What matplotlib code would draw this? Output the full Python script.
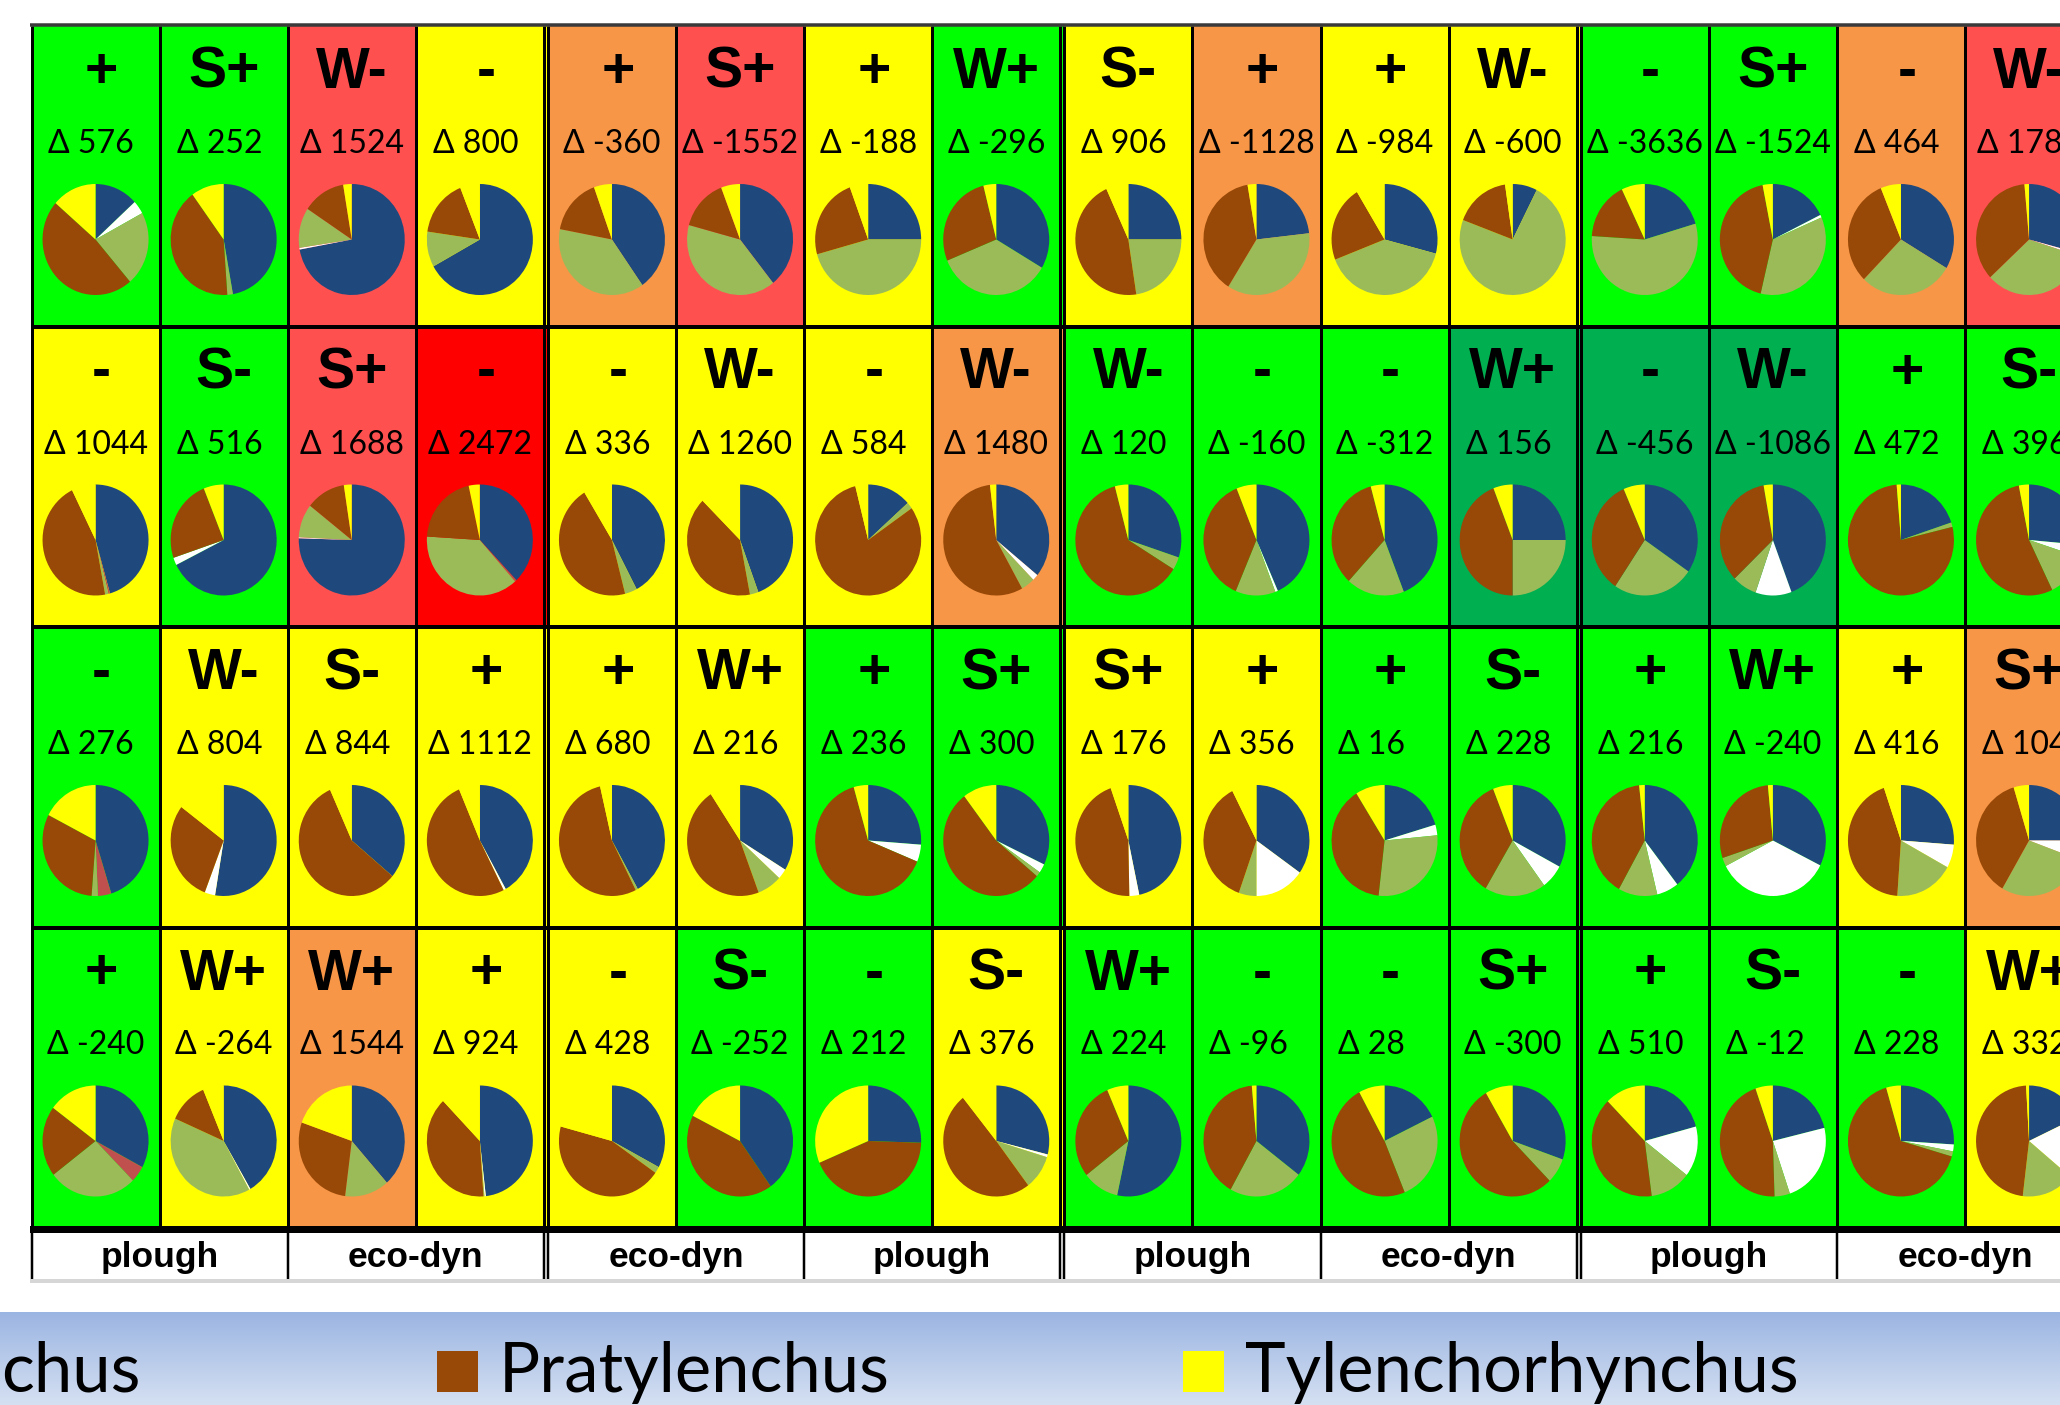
import matplotlib
matplotlib.use("Agg")
import matplotlib.pyplot as plt
from matplotlib.patches import Rectangle
from matplotlib import font_manager
import numpy as np

# ---------------------------------------------------------------- data ----
# effect class shown in each cell (4 sampling rows x 16 plots)
effect = [
    ["+", "S+", "W-", "-", "+", "S+", "+", "W+", "S-", "+", "+", "W-", "-", "S+", "-", "W-"],
    ["-", "S-", "S+", "-", "-", "W-", "-", "W-", "W-", "-", "-", "W+", "-", "W-", "+", "S-"],
    ["-", "W-", "S-", "+", "+", "W+", "+", "S+", "S+", "+", "+", "S-", "+", "W+", "+", "S+"],
    ["+", "W+", "W+", "+", "-", "S-", "-", "S-", "W+", "-", "-", "S+", "+", "S-", "-", "W+"],
]

# change in nematode numbers
delta = [
    [576, 252, 1524, 800, -360, -1552, -188, -296, 906, -1128, -984, -600, -3636, -1524, 464, 1780],
    [1044, 516, 1688, 2472, 336, 1260, 584, 1480, 120, -160, -312, 156, -456, -1086, 472, 396],
    [276, 804, 844, 1112, 680, 216, 236, 300, 176, 356, 16, 228, 216, -240, 416, 104],
    [-240, -264, 1544, 924, 428, -252, 212, 376, 224, -96, 28, -300, 510, -12, 228, 332],
]

# cell shading class: G green, D dark green, Y yellow, O orange, S light red, R red
cell_class = [
    "GGSY" "OSYG" "YOYY" "GGOS",
    "YGSR" "YYYO" "GGGD" "DDGG",
    "GYYY" "YYGG" "YYGG" "GGYO",
    "GYOY" "YGGY" "GGGG" "GGGY",
]

# community composition per cell (%), one array per taxon group
blue_share = [
    [13.2, 47.2, 72.1, 66.9, 40.3, 39.3, 25.0, 33.5, 25.0, 23.2, 29.1, 7.5, 20.4, 17.7, 33.6, 29.1],
    [45.6, 67.6, 75.5, 37.9, 42.3, 44.4, 13.4, 35.9, 30.1, 43.4, 44.1, 25.0, 34.6, 44.3, 19.9, 26.4],
    [45.2, 52.6, 36.1, 41.9, 41.9, 33.8, 26.2, 32.1, 46.7, 34.8, 20.4, 32.8, 39.5, 32.4, 26.2, 25.0],
    [32.8, 41.6, 38.5, 48.2, 32.8, 40.2, 25.5, 28.9, 53.4, 35.4, 17.8, 30.4, 20.8, 21.2, 26.0, 18.0],
]
white_share = [
    [3.9, 0, 0.5, 0, 0, 0, 0, 0, 0, 0, 0, 0, 0, 0.8, 0, 0.8],
    [0, 2.2, 0.3, 0, 0, 0, 0, 1.8, 0, 0.8, 0, 0, 0, 11.0, 0, 3.6],
    [0, 3.2, 0, 0.7, 0, 3.0, 5.0, 2.6, 3.0, 15.2, 3.1, 7.1, 6.7, 35.0, 6.8, 5.6],
    [0, 0.4, 0, 0.4, 0, 0, 0, 0.8, 0, 0, 0, 0, 14.7, 23.6, 2.0, 18.0],
]
red_share = [
    [0, 0, 0, 0, 0, 0, 0, 0, 0, 0, 0, 0, 0, 0, 0, 0],
    [0.5, 0, 0, 0.5, 0, 0, 0, 0, 0, 0, 0, 0, 0, 0, 0, 0],
    [4.1, 0, 0, 0, 0, 0, 0, 0, 0, 0, 0, 0, 0, 0, 0, 0],
    [4.8, 0, 0, 0, 0, 0, 0, 0, 0, 0, 0, 0, 0, 0, 0, 0],
]
green_share = [
    [21.6, 1.7, 11.7, 10.3, 37.7, 39.9, 45.7, 35.3, 22.6, 35.7, 40.0, 73.2, 55.6, 35.2, 28.7, 33.2],
    [1.0, 0, 9.8, 37.6, 3.7, 2.6, 1.9, 4.2, 3.7, 12.2, 17.7, 25.0, 24.8, 7.5, 1.3, 12.8],
    [1.9, 0, 0, 0, 0.7, 7.5, 0, 1.4, 0, 5.4, 28.3, 18.6, 11.9, 2.5, 18.1, 27.8],
    [27.0, 39.6, 13.5, 0.3, 1.9, 0, 0, 10.0, 11.1, 22.7, 26.0, 7.3, 12.4, 4.7, 1.5, 15.9],
]
brown_share = [
    [47.6, 41.1, 13.1, 16.7, 16.5, 15.0, 23.7, 27.3, 45.6, 38.4, 22.2, 17.0, 16.9, 43.2, 31.5, 35.5],
    [45.6, 24.1, 12.0, 20.6, 45.3, 40.5, 80.8, 56.2, 62.1, 37.5, 34.0, 44.1, 34.1, 34.4, 77.5, 54.1],
    [31.4, 29.5, 57.2, 51.0, 53.8, 46.4, 64.4, 53.6, 44.9, 37.1, 39.3, 35.5, 40.2, 28.6, 43.7, 36.9],
    [20.6, 12.1, 28.4, 38.9, 44.5, 42.3, 43.1, 49.5, 29.0, 40.5, 48.3, 53.9, 39.8, 45.2, 66.0, 47.2],
]
yellow_share = [
    [13.6, 10.0, 2.6, 6.0, 5.5, 5.8, 5.6, 3.9, 6.8, 2.7, 8.7, 2.3, 7.1, 3.1, 6.2, 1.4],
    [7.3, 6.1, 2.4, 3.4, 8.7, 12.5, 3.9, 1.9, 4.1, 6.1, 4.2, 5.9, 6.5, 2.8, 1.3, 3.1],
    [17.4, 14.7, 6.7, 6.4, 3.6, 9.3, 4.4, 10.3, 5.4, 7.5, 8.9, 6.0, 1.7, 1.5, 5.2, 4.7],
    [14.8, 6.3, 19.6, 12.2, 20.8, 17.5, 31.4, 10.8, 6.5, 1.4, 7.9, 8.4, 12.3, 5.3, 4.5, 0.9],
]

# tillage of each pair of plots
practice = ["plough", "eco-dyn", "eco-dyn", "plough", "plough", "eco-dyn", "plough", "eco-dyn"]

legend_labels = ["Pratylenchus", "Tylenchorhynchus"]
legend_tail = "chus"

# --------------------------------------------------------------- styles ---
SERIES_COLOURS = ["#1F497D", "#FFFFFF", "#C0504D", "#9BBB59", "#984807", "#FFFF00"]
LEGEND_COLOURS = ["#984807", "#FFFF00"]
CELL_COLOURS = {"G": "#00FF00", "D": "#00B050", "Y": "#FFFF00",
                "O": "#F79646", "S": "#FF5050", "R": "#FF0000"}

# a narrow bold face if one is installed, else regular width at a smaller size
installed = {f.name for f in font_manager.fontManager.ttflist}
if "Liberation Sans Narrow" in installed:
    BOLD_FAMILY = ["Liberation Sans Narrow", "DejaVu Sans"]
    LABEL_SIZE, HEAD_SIZE = 46, 30
else:
    BOLD_FAMILY = ["Liberation Sans", "DejaVu Sans"]
    LABEL_SIZE, HEAD_SIZE = 41, 25.5
BODY = ["Lato", "DejaVu Sans"]

W, H = 2060, 1405
X0, CW, GAP = 31.5, 128.1, 4.0
Y0, RH = 26.0, 300.5
NR, NC = 4, 16
PT = 0.72  # points per pixel at 100 dpi
GRID_BOTTOM = Y0 + NR * RH
HEAD_TOP, HEAD_BOTTOM = GRID_BOTTOM + 5, 1280
BAND_TOP = 1312


def col_left(c):
    return X0 + c * CW + (c // 4) * GAP


fig = plt.figure(figsize=(W / 100, H / 100), dpi=100)
ax = fig.add_axes([0, 0, 1, 1])
ax.set_xlim(0, W)
ax.set_ylim(H, 0)
ax.axis("off")

# ---------------------------------------------------------- cell fills ----
for r in range(NR):
    for c in range(NC):
        extra = GAP if (c % 4 == 3) else 0
        ax.add_patch(Rectangle((col_left(c), Y0 + r * RH), CW + extra, RH,
                               facecolor=CELL_COLOURS[cell_class[r][c]],
                               edgecolor="none", zorder=1))

# ---------------------------------------------------------- grid lines ----
line_kw = dict(color="black", solid_capstyle="butt", zorder=3)
for c in range(NC):
    x = col_left(c)
    ax.plot([x, x], [Y0, GRID_BOTTOM], lw=3 * PT, **line_kw)
    if c % 4 == 0 and c > 0:
        ax.plot([x - GAP, x - GAP], [Y0, GRID_BOTTOM], lw=3 * PT, **line_kw)
for r in range(1, NR):
    y = Y0 + r * RH
    ax.plot([X0, W], [y, y], lw=4 * PT, **line_kw)
ax.plot([X0 - 1.5, W], [Y0 - 1, Y0 - 1], lw=3.5 * PT, color="#3A3A3A",
        solid_capstyle="butt", zorder=3)
ax.add_patch(Rectangle((X0 - 1.5, GRID_BOTTOM - 2), W, 7, facecolor="black",
                       edgecolor="none", zorder=3))

# header row with tillage labels
for k in range(len(practice)):
    x = col_left(2 * k)
    ax.plot([x, x], [HEAD_TOP, HEAD_BOTTOM], lw=2.5 * PT, **line_kw)
    if k % 2 == 0 and k > 0:
        ax.plot([x - GAP, x - GAP], [HEAD_TOP, HEAD_BOTTOM], lw=2.5 * PT, **line_kw)
    xc = (col_left(2 * k) + col_left(2 * k + 1) + CW) / 2
    ax.text(xc, HEAD_BOTTOM - 13, practice[k], ha="center", va="baseline",
            fontsize=HEAD_SIZE, fontweight="bold", family=BOLD_FAMILY, zorder=4)
ax.plot([X0 - 1.5, W], [HEAD_BOTTOM + 1, HEAD_BOTTOM + 1], lw=4 * PT,
        color="#D6D6D6", solid_capstyle="butt", zorder=3)

# ------------------------------------------------------- cell contents ----
renderer = fig.canvas.get_renderer()
for r in range(NR):
    top = Y0 + r * RH
    for c in range(NC):
        left = col_left(c)
        xc = left + CW / 2
        lab = effect[r][c]
        ax.text(xc + (6 if len(lab) == 1 else 0), top + 62, lab,
                ha="center", va="baseline", fontsize=LABEL_SIZE, fontweight="bold",
                family=BOLD_FAMILY, zorder=4)

        t = ax.text(left + 17, top + 127, f"\u0394 {delta[r][c]}", ha="left",
                    va="baseline", fontsize=23, family=BODY, zorder=4)
        wpx = t.get_window_extent(renderer=renderer).width
        if wpx > CW - 34:
            t.set_x(left + max(1.0, (CW - wpx) / 2))

        # composition pie
        rx, ry = 53, 55.5
        cy = top + 213.5
        pax = fig.add_axes([(xc - rx) / W, 1 - (cy + ry) / H, 2 * rx / W, 2 * ry / H])
        vals = [blue_share[r][c], white_share[r][c], red_share[r][c],
                green_share[r][c], brown_share[r][c], yellow_share[r][c]]
        pax.pie(vals, colors=SERIES_COLOURS, startangle=90, counterclock=False,
                wedgeprops=dict(linewidth=0, antialiased=True))
        pax.set_aspect("auto")
        pax.set_xlim(-1, 1)
        pax.set_ylim(-1, 1)
        pax.axis("off")

# ---------------------------------------------------------------- legend ---
top_rgb = np.array([0x9B, 0xB5, 0xE2]) / 255
bot_rgb = np.array([0xD5, 0xE0, 0xF2]) / 255
frac = np.linspace(0, 1, 128)[:, None, None]
grad = top_rgb[None, None, :] * (1 - frac) + bot_rgb[None, None, :] * frac
ax.imshow(grad, extent=(0, W, H, BAND_TOP), origin="upper", aspect="auto", zorder=0)
ax.set_xlim(0, W)
ax.set_ylim(H, 0)

legend_x = [437, 1183]
for name, col, x in zip(legend_labels, LEGEND_COLOURS, legend_x):
    ax.add_patch(Rectangle((x, 1351), 41, 41, facecolor=col, edgecolor="none", zorder=2))
    ax.text(x + 62, 1392, name, ha="left", va="baseline", fontsize=49.5,
            family=BODY, zorder=2)
ax.text(141, 1392, legend_tail, ha="right", va="baseline", fontsize=49.5,
        family=BODY, zorder=2)

fig.savefig("out.png", dpi=100)
